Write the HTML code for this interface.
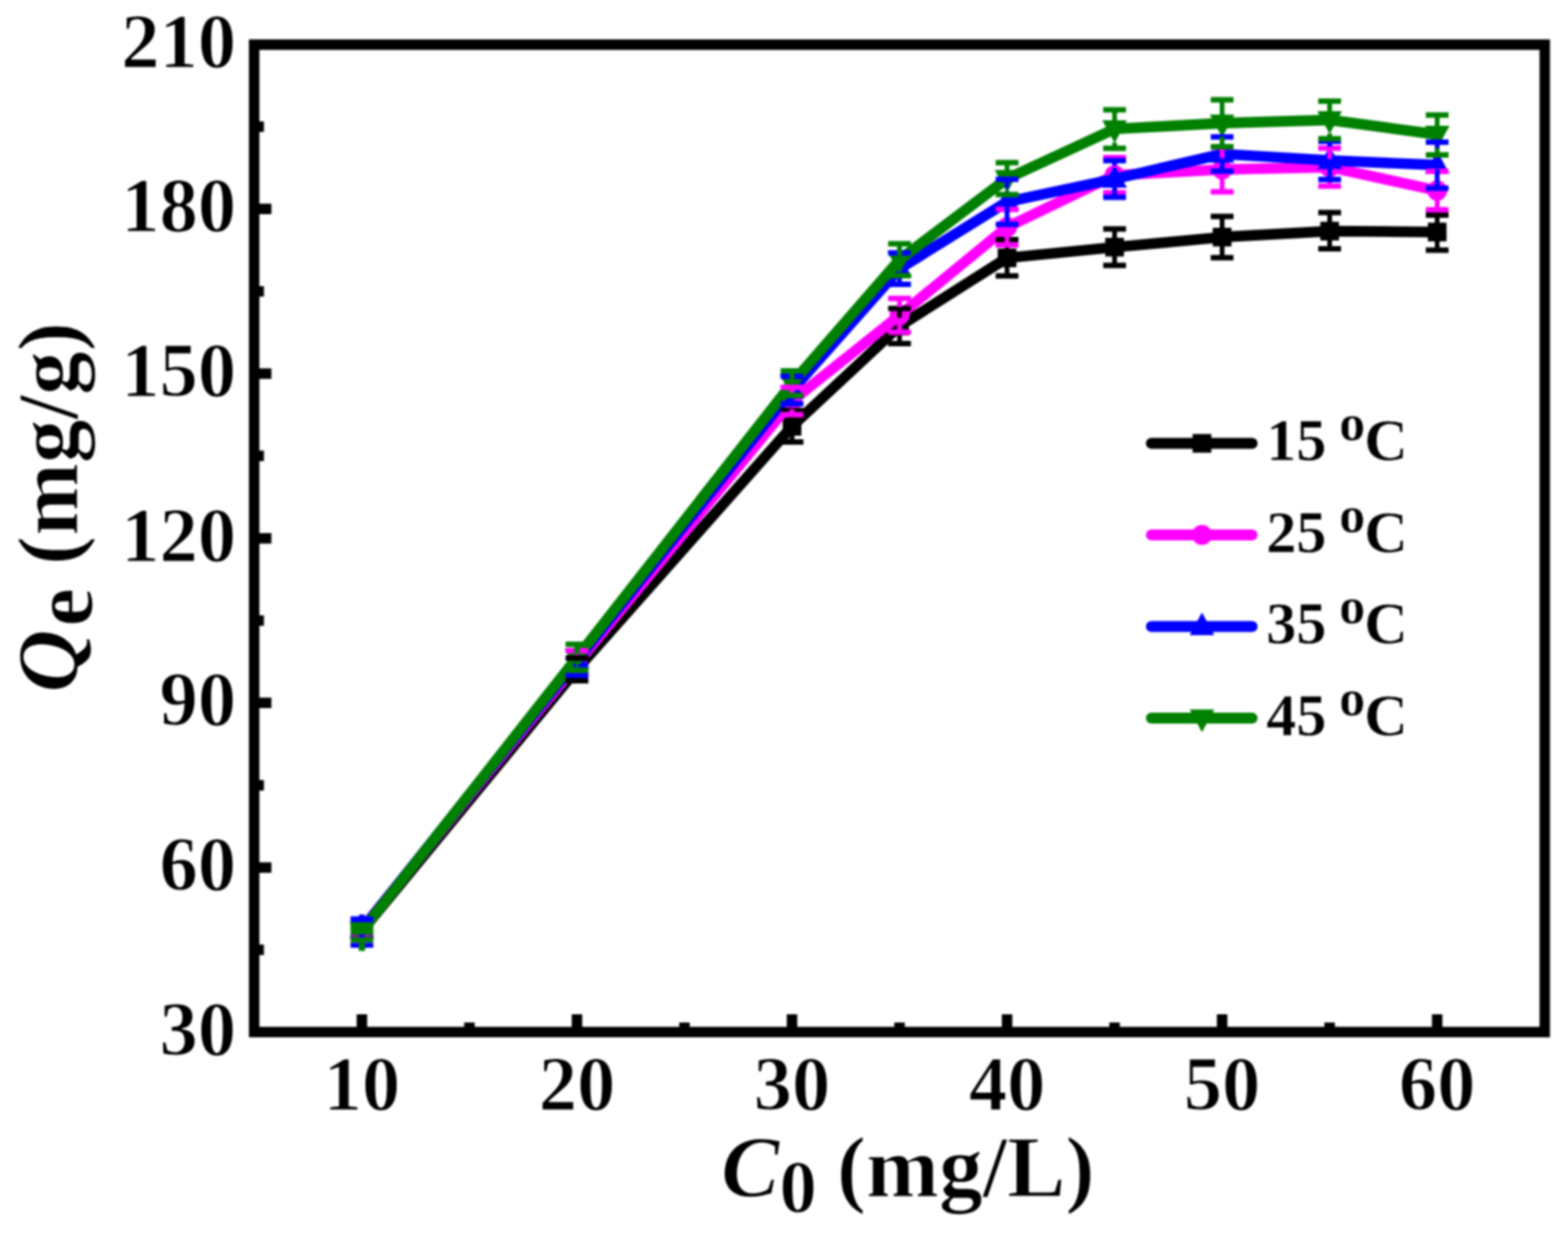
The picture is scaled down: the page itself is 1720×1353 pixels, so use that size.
<!DOCTYPE html>
<html lang="en"><head><meta charset="utf-8"><title>Qe vs C0 adsorption isotherms</title>
<style>html,body{margin:0;padding:0;background:#fff;}body{width:1720px;height:1353px;overflow:hidden;}svg{display:block;}text{font-family:"Liberation Serif","DejaVu Serif",serif;font-weight:bold;fill:#000;}.thin{stroke:#fff;stroke-width:1.2px;stroke-linejoin:round;}.leg{stroke:#fff;stroke-width:0.5px;stroke-linejoin:round;}</style>
</head><body>
<svg width="1720" height="1353" viewBox="0 0 1720 1353">
<rect x="0" y="0" width="1720" height="1353" fill="#ffffff"/>
<defs><filter id="soft" x="0" y="0" width="1720" height="1353" filterUnits="userSpaceOnUse" color-interpolation-filters="sRGB"><feGaussianBlur stdDeviation="0.9"/></filter></defs>
<g filter="url(#soft)">
<rect x="0" y="0" width="1720" height="1353" fill="#ffffff"/>
<g><polyline points="397,1021.5 632.9,734.3 868.8,467.8 986.75,357.8 1104.7,283 1222.65,271.2 1340.6,260.2 1458.55,253.6 1576.5,254.6" fill="none" stroke="#000000" stroke-width="11.7" stroke-linejoin="round"/><rect x="386.75" y="1011.25" width="20.5" height="20.5" fill="#000000"/><rect x="622.65" y="724.05" width="20.5" height="20.5" fill="#000000"/><rect x="858.55" y="457.55" width="20.5" height="20.5" fill="#000000"/><rect x="976.5" y="347.55" width="20.5" height="20.5" fill="#000000"/><rect x="1094.45" y="272.75" width="20.5" height="20.5" fill="#000000"/><rect x="1212.4" y="260.95" width="20.5" height="20.5" fill="#000000"/><rect x="1330.35" y="249.95" width="20.5" height="20.5" fill="#000000"/><rect x="1448.3" y="243.35" width="20.5" height="20.5" fill="#000000"/><rect x="1566.25" y="244.35" width="20.5" height="20.5" fill="#000000"/></g>
<g><polyline points="397,1019.5 632.9,728 868.8,440 986.75,346 1104.7,249.2 1222.65,192.3 1340.6,186 1458.55,183.4 1576.5,209.1" fill="none" stroke="#ff00ff" stroke-width="11.7" stroke-linejoin="round"/><circle cx="397" cy="1019.5" r="11" fill="#ff00ff"/><circle cx="632.9" cy="728" r="11" fill="#ff00ff"/><circle cx="868.8" cy="440" r="11" fill="#ff00ff"/><circle cx="986.75" cy="346" r="11" fill="#ff00ff"/><circle cx="1104.7" cy="249.2" r="11" fill="#ff00ff"/><circle cx="1222.65" cy="192.3" r="11" fill="#ff00ff"/><circle cx="1340.6" cy="186" r="11" fill="#ff00ff"/><circle cx="1458.55" cy="183.4" r="11" fill="#ff00ff"/><circle cx="1576.5" cy="209.1" r="11" fill="#ff00ff"/></g>
<g><polyline points="397,1020 632.9,724.5 868.8,428 986.75,294.8 1104.7,221.5 1222.65,196.4 1340.6,169 1458.55,176 1576.5,181.2" fill="none" stroke="#0000ff" stroke-width="11.7" stroke-linejoin="round"/><polygon points="397,1004.5 410.5,1029.5 383.5,1029.5" fill="#0000ff"/><polygon points="632.9,709 646.4,734 619.4,734" fill="#0000ff"/><polygon points="868.8,412.5 882.3,437.5 855.3,437.5" fill="#0000ff"/><polygon points="986.75,279.3 1000.25,304.3 973.25,304.3" fill="#0000ff"/><polygon points="1104.7,206 1118.2,231 1091.2,231" fill="#0000ff"/><polygon points="1222.65,180.9 1236.15,205.9 1209.15,205.9" fill="#0000ff"/><polygon points="1340.6,153.5 1354.1,178.5 1327.1,178.5" fill="#0000ff"/><polygon points="1458.55,160.5 1472.05,185.5 1445.05,185.5" fill="#0000ff"/><polygon points="1576.5,165.7 1590,190.7 1563,190.7" fill="#0000ff"/></g>
<g><polyline points="397,1021.5 632.9,721.5 868.8,420.5 986.75,285 1104.7,196 1222.65,141.5 1340.6,135.2 1458.55,131.6 1576.5,147.6" fill="none" stroke="#008000" stroke-width="11.7" stroke-linejoin="round"/><polygon points="397,1037 410.5,1012 383.5,1012" fill="#008000"/><polygon points="632.9,737 646.4,712 619.4,712" fill="#008000"/><polygon points="868.8,436 882.3,411 855.3,411" fill="#008000"/><polygon points="986.75,300.5 1000.25,275.5 973.25,275.5" fill="#008000"/><polygon points="1104.7,211.5 1118.2,186.5 1091.2,186.5" fill="#008000"/><polygon points="1222.65,157 1236.15,132 1209.15,132" fill="#008000"/><polygon points="1340.6,150.7 1354.1,125.7 1327.1,125.7" fill="#008000"/><polygon points="1458.55,147.1 1472.05,122.1 1445.05,122.1" fill="#008000"/><polygon points="1576.5,163.1 1590,138.1 1563,138.1" fill="#008000"/></g>
<g fill="none" stroke="#000000"><path d="M620.4 722H645.4M620.4 747H645.4M856.3 450.5H881.3M856.3 485H881.3M974.25 338.5H999.25M974.25 377H999.25M1092.2 263H1117.2M1092.2 302.8H1117.2M1210.15 251.3H1235.15M1210.15 291.2H1235.15M1328.1 237.6H1353.1M1328.1 282.7H1353.1M1446.05 233.2H1471.05M1446.05 273H1471.05M1564 236H1589M1564 274.5H1589" stroke-width="6"/><path d="M632.9 722V725.3M632.9 743.3V747M868.8 450.5V458.8M868.8 476.8V485M986.75 338.5V348.8M986.75 366.8V377M1104.7 263V274M1104.7 292V302.8M1222.65 251.3V262.2M1222.65 280.2V291.2M1340.6 237.6V251.2M1340.6 269.2V282.7M1458.55 233.2V244.6M1458.55 262.6V273M1576.5 236V245.6M1576.5 263.6V274.5" stroke-width="5.2"/></g>
<g fill="none" stroke="#ff00ff"><path d="M620.4 714H645.4M620.4 740H645.4M856.3 425H881.3M856.3 455H881.3M974.25 327.5H999.25M974.25 364.5H999.25M1092.2 229.8H1117.2M1092.2 268.7H1117.2M1210.15 173H1235.15M1210.15 211.5H1235.15M1328.1 161.4H1353.1M1328.1 210.6H1353.1M1446.05 162.5H1471.05M1446.05 204.3H1471.05M1564 188H1589M1564 230.2H1589" stroke-width="6"/><path d="M632.9 714V719M632.9 737V740M868.8 425V431M868.8 449V455M986.75 327.5V337M986.75 355V364.5M1104.7 229.8V240.2M1104.7 258.2V268.7M1222.65 173V183.3M1222.65 201.3V211.5M1340.6 161.4V177M1340.6 195V210.6M1458.55 162.5V174.4M1458.55 192.4V204.3M1576.5 188V200.1M1576.5 218.1V230.2" stroke-width="5.2"/></g>
<g fill="none" stroke="#0000ff"><path d="M620.4 741H645.4M856.3 413H881.3M856.3 443H881.3M974.25 277.5H999.25M974.25 312H999.25M1092.2 196.8H1117.2M1092.2 246.3H1117.2M1210.15 176.3H1235.15M1210.15 216.5H1235.15M1328.1 150.3H1353.1M1328.1 187.7H1353.1M1446.05 155H1471.05M1446.05 197H1471.05M1564 156H1589M1564 206.5H1589" stroke-width="6"/><path d="M632.9 729V741M868.8 432.5V443M986.75 277.5V279.8M986.75 299.3V312M1104.7 196.8V206.5M1104.7 226V246.3M1222.65 176.3V181.4M1222.65 200.9V216.5M1340.6 150.3V154M1340.6 173.5V187.7M1458.55 155V161M1458.55 180.5V197M1576.5 156V166.2M1576.5 185.7V206.5" stroke-width="5.2"/></g>
<g fill="none" stroke="#008000"><path d="M620.4 707H645.4M620.4 735.5H645.4M856.3 407H881.3M856.3 434H881.3M974.25 267.5H999.25M974.25 302.5H999.25M1092.2 178.5H1117.2M1092.2 213.5H1117.2M1210.15 120.4H1235.15M1210.15 162.7H1235.15M1328.1 109.5H1353.1M1328.1 161H1353.1M1446.05 111H1471.05M1446.05 152.2H1471.05M1564 126.3H1589M1564 170H1589" stroke-width="6"/><path d="M632.9 707V717M868.8 407V416M986.75 267.5V280.5M986.75 300V302.5M1104.7 178.5V191.5M1104.7 211V213.5M1222.65 120.4V137M1222.65 156.5V162.7M1340.6 109.5V130.7M1340.6 150.2V161M1458.55 111V127.1M1458.55 146.6V152.2M1576.5 126.3V143.1M1576.5 162.6V170" stroke-width="5.2"/></g>
<g><rect x="394" y="1003.5" width="6" height="2.5" fill="#0000ff"/><rect x="384.5" y="1005.5" width="25" height="6.5" fill="#0000ff"/><rect x="384.5" y="1012" width="25" height="22.5" fill="#008000"/><rect x="384.5" y="1025.5" width="25" height="3" fill="#7a1fa8"/><rect x="394" y="1025.5" width="6" height="3" fill="#0000ff"/><rect x="384.5" y="1034.5" width="25" height="5.5" fill="#0000ff"/><rect x="393.5" y="1034.5" width="7" height="9" fill="#008000"/></g>
<g><rect x="628.9" y="728" width="16.5" height="3.5" fill="#0000ff"/><rect x="631.9" y="728" width="3" height="3.5" fill="#008000"/><rect x="629.9" y="709" width="6" height="8.5" fill="#008000"/></g>
<path d="M278.8 952H297.7M278.8 771.34H297.7M278.8 590.68H297.7M278.8 410.02H297.7M278.8 229.36H297.7M278.8 1042.33H289.5M278.8 861.67H289.5M278.8 681.01H289.5M278.8 500.35H289.5M278.8 319.69H289.5M278.8 139.03H289.5M397 1132.5V1113M632.9 1132.5V1113M868.8 1132.5V1113M1104.7 1132.5V1113M1340.6 1132.5V1113M1576.5 1132.5V1113M514.95 1132.5V1122M750.85 1132.5V1122M986.75 1132.5V1122M1222.65 1132.5V1122M1458.55 1132.5V1122" stroke="#000" stroke-width="11.5" fill="none"/>
<rect x="278.8" y="49" width="1415.7" height="1083.5" fill="none" stroke="#000" stroke-width="11.5"/>
<g class="thin" font-size="84" text-anchor="end">
<text x="259" y="1157.66">30</text>
<text x="259" y="977">60</text>
<text x="259" y="796.34">90</text>
<text x="259" y="615.68">120</text>
<text x="259" y="435.02">150</text>
<text x="259" y="254.36">180</text>
<text x="259" y="73.7">210</text>
</g>
<g class="thin" font-size="84" text-anchor="middle">
<text x="397" y="1218">10</text>
<text x="632.9" y="1218">20</text>
<text x="868.8" y="1218">30</text>
<text x="1104.7" y="1218">40</text>
<text x="1340.6" y="1218">50</text>
<text x="1576.5" y="1218">60</text>
</g>
<text class="thin" x="791" y="1313" font-size="96"><tspan font-style="italic">C</tspan><tspan font-size="82" dy="17">0</tspan><tspan dy="-17" dx="-2"> (mg/L)</tspan></text>
<text class="thin" transform="translate(85 760) rotate(-90)" font-size="96"><tspan font-style="italic">Q</tspan><tspan dy="15.5" dx="3">e</tspan><tspan dy="-15.5" dx="1"> (mg/g)</tspan></text>
<line x1="1263" y1="486.5" x2="1373.5" y2="486.5" stroke="#000000" stroke-width="12" stroke-linecap="round"/>
<rect x="1308.25" y="476.25" width="20.5" height="20.5" fill="#000000"/>
<text x="1389" y="505" class="leg" font-size="66">15 <tspan font-size="57" dy="-22" dx="-2.5">o</tspan><tspan dy="22" dx="-1">C</tspan></text>
<line x1="1263" y1="587" x2="1373.5" y2="587" stroke="#ff00ff" stroke-width="12" stroke-linecap="round"/>
<circle cx="1318.5" cy="587" r="11" fill="#ff00ff"/>
<text x="1389" y="605.5" class="leg" font-size="66">25 <tspan font-size="57" dy="-22" dx="-2.5">o</tspan><tspan dy="22" dx="-1">C</tspan></text>
<line x1="1263" y1="687.5" x2="1373.5" y2="687.5" stroke="#0000ff" stroke-width="12" stroke-linecap="round"/>
<polygon points="1318.5,672 1332,697 1305,697" fill="#0000ff"/>
<text x="1389" y="706" class="leg" font-size="66">35 <tspan font-size="57" dy="-22" dx="-2.5">o</tspan><tspan dy="22" dx="-1">C</tspan></text>
<line x1="1263" y1="788" x2="1373.5" y2="788" stroke="#008000" stroke-width="12" stroke-linecap="round"/>
<polygon points="1318.5,803.5 1332,778.5 1305,778.5" fill="#008000"/>
<text x="1389" y="806.5" class="leg" font-size="66">45 <tspan font-size="57" dy="-22" dx="-2.5">o</tspan><tspan dy="22" dx="-1">C</tspan></text>
</g>
</svg>
</body></html>
